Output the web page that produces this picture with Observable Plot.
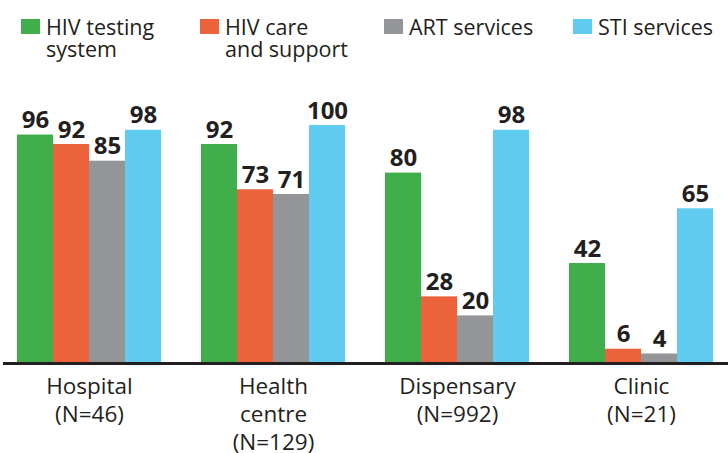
<!DOCTYPE html>
<html>
<head>
<meta charset="utf-8">
<script src="https://cdn.jsdelivr.net/npm/d3@7"></script>
<script src="https://cdn.jsdelivr.net/npm/@observablehq/plot@0.6"></script>
<style>
  html, body { margin: 0; padding: 0; background: #fff; }
  body { width: 728px; height: 453px; overflow: hidden; font-family: "Open Sans", sans-serif; color: #231f20; }
  #legend { position: relative; height: 70px; }
  .item { position: absolute; top: 16px; display: flex; align-items: flex-start; font-size: 21.5px; line-height: 22px; }
  .item:nth-child(1) { left: 21px; }
  .item:nth-child(2) { left: 200px; }
  .item:nth-child(3) { left: 384px; }
  .item:nth-child(4) { left: 573px; }
  .sw { width: 19px; height: 15px; margin-top: 3px; margin-right: 6px; flex: none; }
  .lab { white-space: pre; }
  svg { display: block; }
</style>
</head>
<body>
<div id="legend"></div>
<div id="chart"></div>
<script>
const groups = ["Hospital", "Health centre", "Dispensary", "Clinic"];
const groupLabels = ["Hospital\n(N=46)", "Health\ncentre\n(N=129)", "Dispensary\n(N=992)", "Clinic\n(N=21)"];
const series = ["HIV testing system", "HIV care and support", "ART services", "STI services"];
const seriesLabels = ["HIV testing\nsystem", "HIV care\nand support", "ART services", "STI services"];
const colors = ["#3fad49", "#ec623a", "#939598", "#5fcbef"];
const hivTesting = [96, 92, 80, 42];
const hivCare = [92, 73, 28, 6];
const artServices = [85, 71, 20, 4];
const stiServices = [98, 100, 98, 65];

const valuesBySeries = [hivTesting, hivCare, artServices, stiServices];
const data = [];
groups.forEach((g, gi) => {
  series.forEach((s, si) => {
    data.push({group: g, series: s, value: valuesBySeries[si][gi]});
  });
});

// Legend
const legend = document.getElementById("legend");
series.forEach((s, i) => {
  const item = document.createElement("div");
  item.className = "item";
  const sw = document.createElement("div");
  sw.className = "sw";
  sw.style.background = colors[i];
  const lab = document.createElement("div");
  lab.className = "lab";
  lab.textContent = seriesLabels[i];
  item.appendChild(sw);
  item.appendChild(lab);
  legend.appendChild(item);
});

const labelMap = new Map(groups.map((g, i) => [g, groupLabels[i]]));

const chart = Plot.plot({
  width: 728,
  height: 383,
  marginLeft: 17,
  marginRight: 15,
  marginTop: 55,
  marginBottom: 90,
  style: {fontFamily: "'Open Sans', sans-serif", color: "#231f20", background: "#fff"},
  fx: {domain: groups, paddingInner: 0.2174, paddingOuter: 0, axis: null},
  x: {domain: series, padding: 0, axis: null},
  y: {domain: [0, 100], axis: null},
  color: {domain: series, range: colors},
  marks: [
    Plot.barY(data, {fx: "group", x: "series", y: "value", fill: "series"}),
    Plot.text(data, {fx: "group", x: "series", y: "value", text: d => String(d.value),
      lineAnchor: "bottom", dy: -7, fontSize: 24, fontWeight: "bold", fill: "#231f20"}),
    Plot.text(groups, {fx: d => d, frameAnchor: "bottom", text: d => labelMap.get(d),
      lineAnchor: "top", dy: 11, fontSize: 22.5, lineHeight: 1.24, fill: "#231f20"}),
    Plot.frame({anchor: "bottom", facet: "super", stroke: "#231f20", strokeWidth: 3, insetLeft: -13, insetRight: -15})
  ]
});
document.getElementById("chart").appendChild(chart);
</script>
</body>
</html>
